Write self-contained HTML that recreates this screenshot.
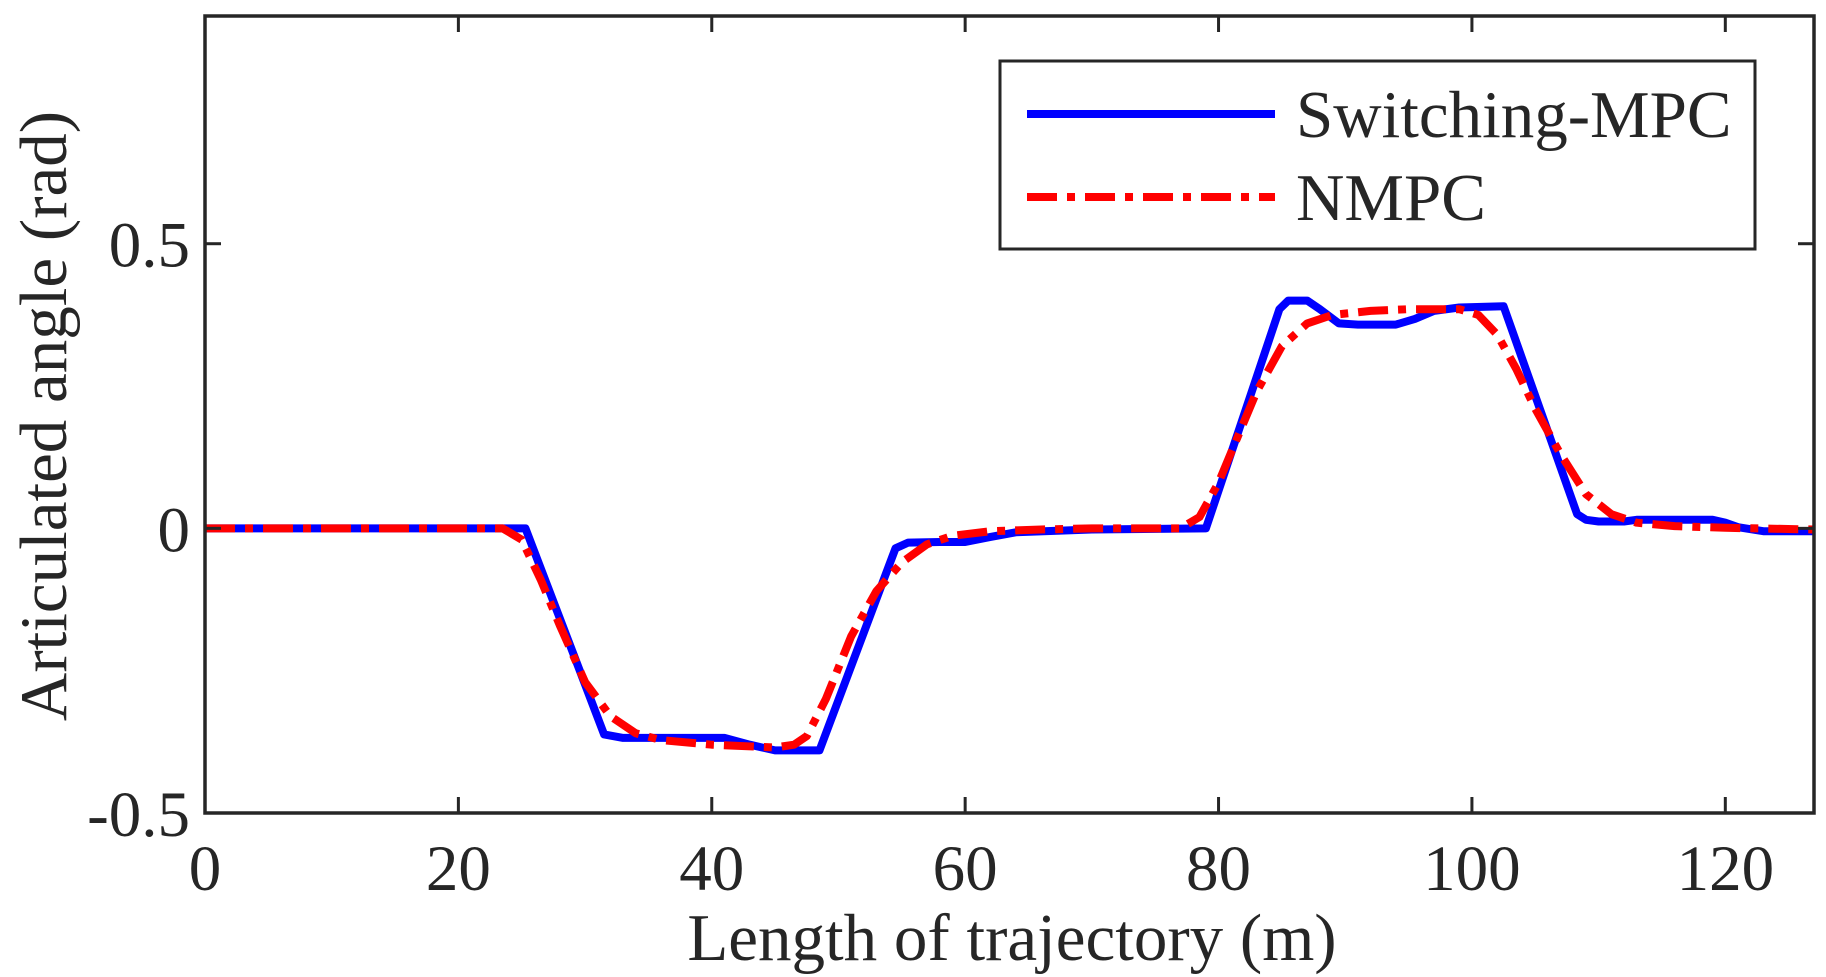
<!DOCTYPE html>
<html><head><meta charset="utf-8"><style>
html,body{margin:0;padding:0;background:#fff;}
svg{display:block;font-family:"Liberation Serif",serif;}
</style></head><body>
<svg id="chart" width="1826" height="977" viewBox="0 0 1826 977">
<rect width="1826" height="977" fill="#fff"/>
<g id="plot"></g>
</svg>
<script>
const xTicks=[0,20,40,60,80,100,120];
const yTicks=[-0.5,0,0.5];
const yTickLabels=["-0.5","0","0.5"];
const smpcX=[0,25.3,31.5,33,36,41,43,45,48.5,54.5,55.5,58,60,62,64,70,79,84.8,85.5,87,88,89.5,91,94,95.5,97,99,102.5,108.3,109,110,112,113,119,120,121,123,127];
const smpcY=[0,0,-0.362,-0.368,-0.368,-0.368,-0.38,-0.39,-0.39,-0.035,-0.025,-0.024,-0.024,-0.015,-0.007,-0.002,0,0.385,0.4,0.4,0.385,0.36,0.358,0.358,0.368,0.382,0.388,0.39,0.025,0.015,0.012,0.012,0.015,0.015,0.01,0.002,-0.005,-0.005];
const nmpcX=[0,23.5,25,26.5,28,30,32,34,36,40,45,46.5,47.5,49,51,53,55,57,59,62,66,70,77,78.5,80,81.5,83,85,87,89,92,95,99,100.5,102,103.5,105,107,109,111,113,116,120,127];
const nmpcY=[0,0,-0.02,-0.09,-0.17,-0.27,-0.33,-0.36,-0.372,-0.38,-0.385,-0.38,-0.365,-0.3,-0.19,-0.11,-0.06,-0.028,-0.013,-0.005,-0.002,0,0,0.02,0.08,0.16,0.24,0.32,0.36,0.375,0.382,0.385,0.385,0.375,0.34,0.28,0.21,0.13,0.06,0.025,0.01,0.004,0.001,-0.002];
const L=205,R=1814,T=16,B=813;
const xMin=0,xMax=127,yMin=-0.5,yMax=0.9;
const xs=v=>L+(v-xMin)/(xMax-xMin)*(R-L);
const ys=v=>B-(v-yMin)/(yMax-yMin)*(B-T);
const NS="http://www.w3.org/2000/svg";
const g=document.getElementById('plot');
function mk(tag,attrs,parent){const e=document.createElementNS(NS,tag);for(const k in attrs)e.setAttribute(k,attrs[k]);(parent||g).appendChild(e);return e;}
function pts(X,Y){return X.map((x,i)=>xs(x).toFixed(1)+','+ys(Y[i]).toFixed(1)).join(' ');}
const s1=mk('polyline',{points:pts(smpcX,smpcY),fill:'none',stroke:'#0000ff','stroke-width':8,'stroke-linejoin':'round'});


const s2=mk('polyline',{points:pts(nmpcX,nmpcY),fill:'none',stroke:'#ff0000','stroke-width':8,'stroke-dasharray':'30 10 8 10','stroke-linejoin':'round'});


const frame=mk('rect',{x:L,y:T,width:R-L,height:B-T,fill:'none',stroke:'#262626','stroke-width':3.5});


xTicks.forEach(t=>{
  const x=xs(t);
  mk('line',{x1:x,x2:x,y1:B,y2:B-16,stroke:'#262626','stroke-width':3});
  mk('line',{x1:x,x2:x,y1:T,y2:T+16,stroke:'#262626','stroke-width':3});
  const tx=mk('text',{x:x,y:890,'font-size':65,'text-anchor':'middle',fill:'#262626'});
  tx.textContent=t;
  
  
});
yTicks.forEach((t,i)=>{
  const y=ys(t);
  mk('line',{x1:L,x2:L+16,y1:y,y2:y,stroke:'#262626','stroke-width':3});
  mk('line',{x1:R,x2:R-16,y1:y,y2:y,stroke:'#262626','stroke-width':3});
  const tx=mk('text',{x:190,y:y+23,'font-size':65,'text-anchor':'end',fill:'#262626'});
  tx.textContent=yTickLabels[i];
  
  
});
const xl=mk('text',{x:1012,y:960,'font-size':67,'text-anchor':'middle',fill:'#262626'});
xl.textContent='Length of trajectory (m)';


const yl=mk('text',{x:0,y:0,'font-size':67,'text-anchor':'middle',fill:'#262626',transform:'translate(66,416) rotate(-90)'});
yl.textContent='Articulated angle (rad)';


const lg=mk('g',{});


mk('rect',{x:1000,y:61,width:755,height:188,fill:'#fff',stroke:'#262626','stroke-width':3},lg);
const e1=mk('line',{x1:1027,x2:1275,y1:114,y2:114,stroke:'#0000ff','stroke-width':8},lg);


const t1=mk('text',{x:1296,y:137,'font-size':67,fill:'#262626'},lg);
t1.textContent='Switching-MPC';
const e2=mk('line',{x1:1027,x2:1275,y1:197,y2:197,stroke:'#ff0000','stroke-width':8,'stroke-dasharray':'30 10 8 10'},lg);


const t2=mk('text',{x:1296,y:220,'font-size':67,fill:'#262626'},lg);
t2.textContent='NMPC';
</script>
</body></html>
